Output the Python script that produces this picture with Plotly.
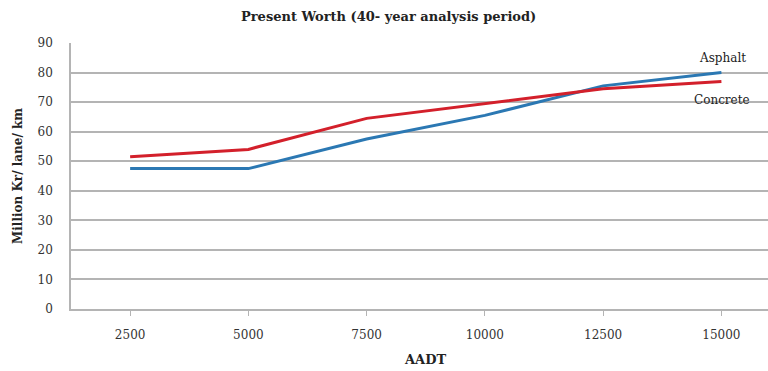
import plotly.graph_objects as go

# AADT categories and present-worth costs (Million Kr / lane / km)
aadt = ["2500", "5000", "7500", "10000", "12500", "15000"]
asphalt = [47.5, 47.5, 57.5, 65.5, 75.5, 80.0]
concrete = [51.5, 54.0, 64.5, 69.5, 74.5, 77.0]
y_ticks = [0, 10, 20, 30, 40, 50, 60, 70, 80, 90]

FONT = "DejaVu Serif"
BLUE = "#2b78b3"
RED = "#d3202b"
GRID = "#b4b4b4"
TEXT = "#222222"

x_idx = list(range(len(aadt)))

fig = go.Figure()
fig.add_trace(go.Scatter(x=x_idx, y=asphalt, mode="lines", name="Asphalt",
                         line=dict(color=BLUE, width=3)))
fig.add_trace(go.Scatter(x=x_idx, y=concrete, mode="lines", name="Concrete",
                         line=dict(color=RED, width=3)))

fig.update_layout(
    width=768, height=371,
    margin=dict(l=71, r=0, t=43, b=62),
    paper_bgcolor="white", plot_bgcolor="white",
    showlegend=False,
    font=dict(family=FONT, color=TEXT, size=12),
    xaxis=dict(
        tickmode="array", tickvals=x_idx, ticktext=aadt,
        range=[-0.5, 5.394],
        showgrid=False, zeroline=False,
        showline=True, linecolor=GRID, linewidth=1.5,
        ticks="outside", ticklen=5, tickcolor=GRID, tickwidth=1,
        ticklabelstandoff=9,
        tickfont=dict(family=FONT, size=12, color="#333333"),
    ),
    yaxis=dict(
        range=[0, 90], tickvals=y_ticks,
        showgrid=True, gridcolor=GRID, gridwidth=1.5,
        zeroline=False,
        showline=True, linecolor=GRID, linewidth=1.5,
        ticks="", ticklabelstandoff=14,
        tickfont=dict(family=FONT, size=12, color="#333333"),
    ),
    annotations=[
        dict(text="<b>Present Worth (40- year analysis period)</b>",
             xref="paper", yref="paper", x=0.455, y=1.0, yshift=27,
             xanchor="center", yanchor="middle",
             showarrow=False, font=dict(family=FONT, size=13, color=TEXT)),
        dict(text="<b>AADT</b>",
             xref="paper", yref="paper", x=0.508, y=0, yshift=-50,
             xanchor="center", yanchor="middle",
             showarrow=False, font=dict(family=FONT, size=13, color=TEXT)),
        dict(text="<b>Million Kr/ lane/ km</b>",
             xref="paper", yref="paper", x=0, xshift=-53, y=0.5, textangle=-90,
             xanchor="center", yanchor="middle",
             showarrow=False, font=dict(family=FONT, size=12, color=TEXT)),
        dict(text="Asphalt", xref="x", yref="y", x=5, y=80, xshift=1, yshift=15,
             xanchor="center", yanchor="middle",
             showarrow=False, font=dict(family=FONT, size=12, color=TEXT)),
        dict(text="Concrete", xref="x", yref="y", x=5, y=77, xshift=1, yshift=-19,
             xanchor="center", yanchor="middle",
             showarrow=False, font=dict(family=FONT, size=12, color=TEXT)),
    ],
)

fig.write_html("out.html")
